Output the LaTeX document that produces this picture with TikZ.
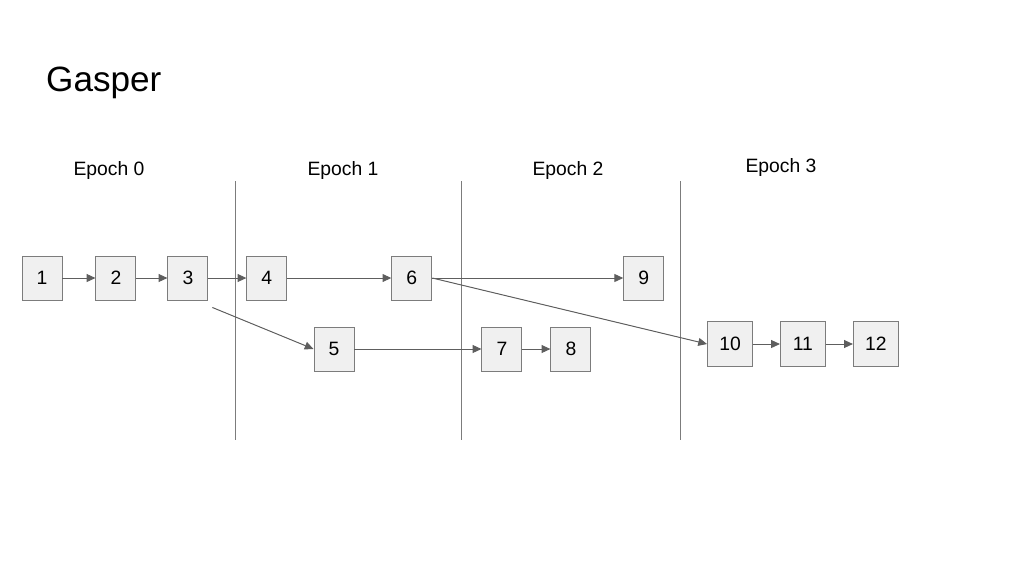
\documentclass[tikz,border=0pt]{standalone}
\usepackage{fontspec}
\setmainfont{Liberation Sans}
\usepackage{xcolor}
\usetikzlibrary{arrows.meta,positioning,calc}

\definecolor{boxfill}{HTML}{F0F0F0}
\definecolor{boxline}{HTML}{7C7C7C}
\definecolor{edgeline}{HTML}{5E5E5E}

\begin{document}
\begin{tikzpicture}[
    x=0.02cm, y=-0.02cm,
    block/.style={rectangle, draw=boxline, fill=boxfill, line width=0.55pt, minimum width=0.8cm, minimum height=0.88cm, inner sep=0pt, font=\fontsize{11}{13}\selectfont},
    wideblock/.style={block, minimum width=0.9cm, minimum height=0.9cm},
    link/.style={-{Triangle[length=5pt,width=4.5pt]}, draw=edgeline, fill=edgeline, line width=0.55pt},
    divider/.style={draw=boxline, line width=0.55pt},
    epoch/.style={font=\fontsize{11}{13}\selectfont}
]
    \useasboundingbox (0,0) rectangle (1024,576);

    % Title
    \node[anchor=west, font=\fontsize{20}{24}\selectfont] (title) at (40,83) {Gasper};

    % Epoch labels
    \node[epoch] (ep0) at (109,170) {Epoch 0};
    \node[epoch] (ep1) at (343,170) {Epoch 1};
    \node[epoch] (ep2) at (568,170) {Epoch 2};
    \node[epoch] (ep3) at (781,167) {Epoch 3};

    % Epoch boundaries
    \coordinate (d1t) at (235,181); \coordinate (d1b) at (235,440);
    \coordinate (d2t) at (461,181); \coordinate (d2b) at (461,440);
    \coordinate (d3t) at (680,181); \coordinate (d3b) at (680,440);
    \draw[divider] (d1t) -- (d1b);
    \draw[divider] (d2t) -- (d2b);
    \draw[divider] (d3t) -- (d3b);

    % Upper row
    \node[block] (n1) at (42,278) {1};
    \node[block, right=0.66cm of n1] (n2) {2};
    \node[block, right=0.62cm of n2] (n3) {3};
    \node[block, right=0.76cm of n3] (n4) {4};
    \node[block, right=2.08cm of n4] (n6) {6};
    \node[block, right=3.82cm of n6] (n9) {9};

    % Lower row
    \node[block] (n5) at (334,349) {5};
    \node[block, right=2.54cm of n5] (n7) {7};
    \node[block, right=0.56cm of n7] (n8) {8};

    % Epoch 3 row
    \node[wideblock] (n10) at (730,344) {10};
    \node[wideblock, right=0.54cm of n10] (n11) {11};
    \node[wideblock, right=0.54cm of n11] (n12) {12};

    % Links
    \coordinate (fork3) at ($(n3.south east)+(4,7)$);
    \draw[link] (n1) -- (n2);
    \draw[link] (n2) -- (n3);
    \draw[link] (n3) -- (n4);
    \draw[link] (n4) -- (n6);
    \draw[link] (n6) -- (n9);
    \draw[link] (fork3) -- (n5.west);
    \draw[link] (n5) -- (n7);
    \draw[link] (n7) -- (n8);
    \draw[link] (n6.east) -- (n10.west);
    \draw[link] (n10) -- (n11);
    \draw[link] (n11) -- (n12);
\end{tikzpicture}
\end{document}
